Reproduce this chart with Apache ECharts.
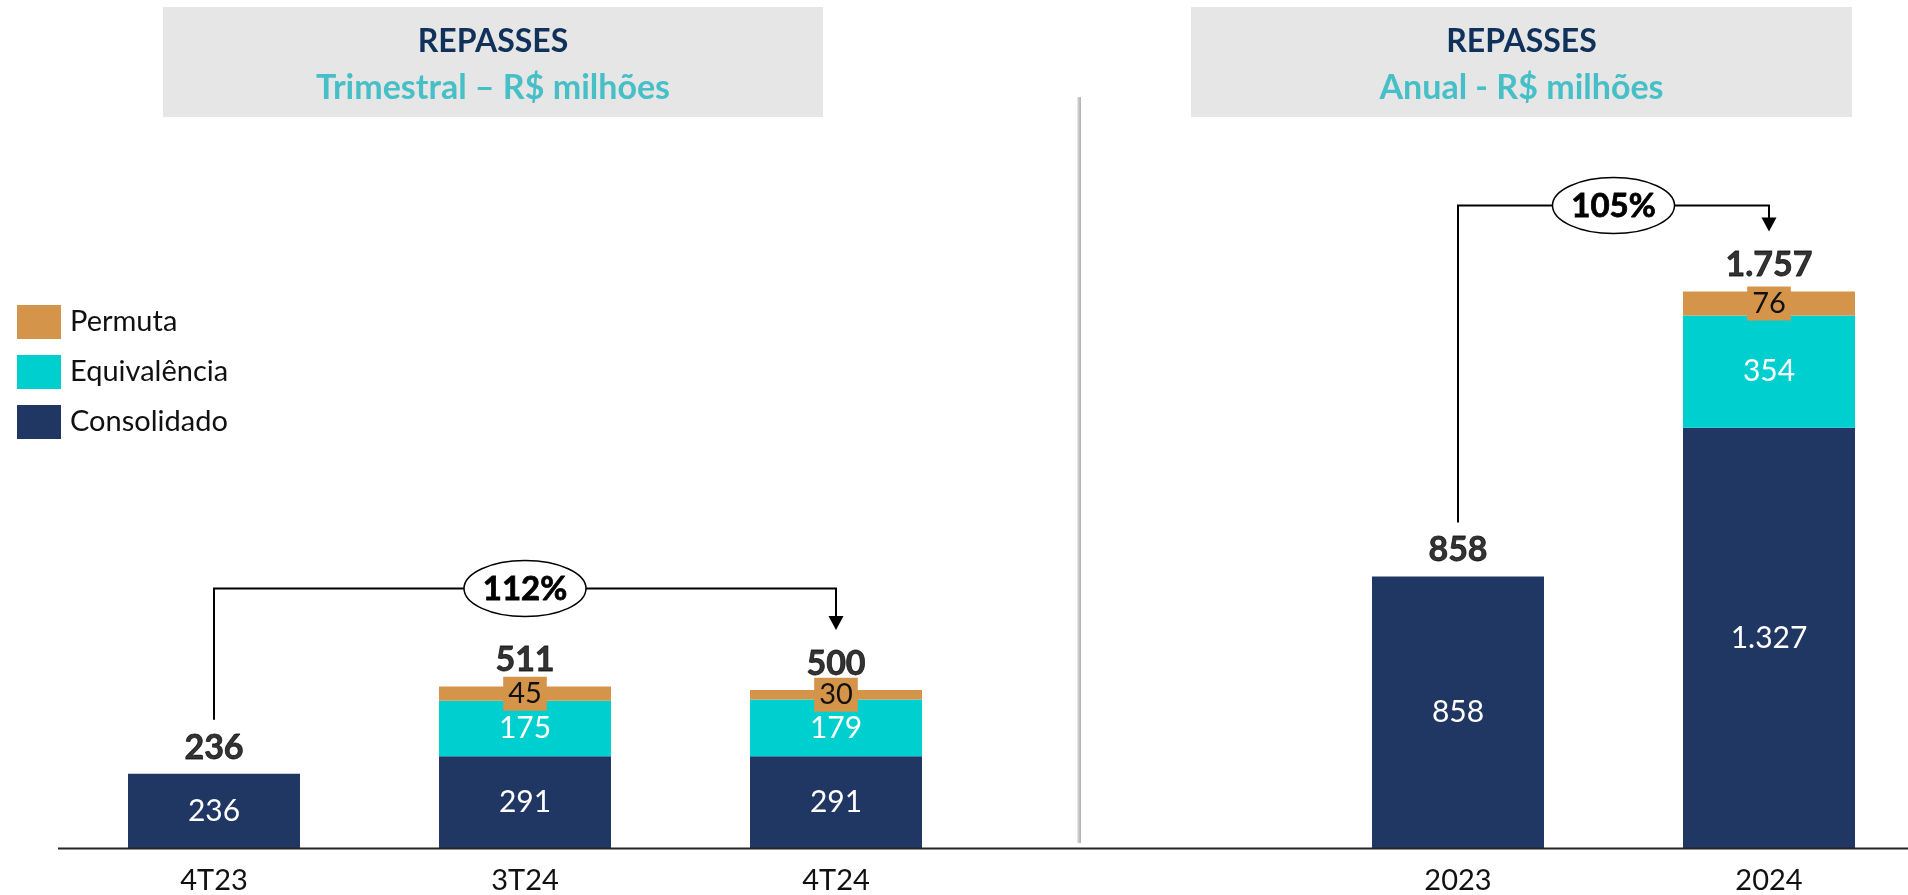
<!DOCTYPE html>
<html>
<head>
<meta charset="utf-8">
<script src="https://cdn.jsdelivr.net/npm/echarts@6/dist/echarts.min.js"></script>
<style>
html,body{margin:0;padding:0;background:#fff;}
#chart{width:1908px;height:895px;}
</style>
</head>
<body>
<div id="chart"></div>
<script>
// ---- data ----
const quarterCats = ['4T23', '3T24', '4T24'];
const quarterConsolidado = [236, 291, 291];
const quarterEquivalencia = [null, 175, 179];
const quarterPermuta = [null, 45, 30];

const yearCats = ['2023', '2024'];
const yearConsolidado = [858, 1327];
const yearEquivalencia = [null, 354];
const yearPermuta = [null, 76];

const seriesNames = ['Consolidado', 'Equivalência', 'Permuta'];
const legendOrder = ['Permuta', 'Equivalência', 'Consolidado'];
const panelTitles = ['REPASSES', 'REPASSES'];
const panelSubtitles = ['Trimestral – R$ milhões', 'Anual - R$ milhões'];
const growthLabels = ['112%', '105%'];

// ---- helpers ----
const FONT = 'Lato, "Open Sans", sans-serif';
const C_NAVY = '#213763';
const C_CYAN = '#00CFCF';
const C_ORANGE = '#D4954A';

function fmt(v) { return String(v).replace(/\B(?=(\d{3})+(?!\d))/g, '.'); }
function sum(arrs) {
  return arrs[0].map((_, i) => arrs.reduce((s, a) => s + (a[i] || 0), 0));
}
const quarterTotals = sum([quarterConsolidado, quarterEquivalencia, quarterPermuta]);
const yearTotals = sum([yearConsolidado, yearEquivalencia, yearPermuta]);

const chart = echarts.init(document.getElementById('chart'), null, { renderer: 'canvas' });

function stackSeries(axisIdx, cons, equi, perm, totals) {
  const base = { type: 'bar', stack: 'st' + axisIdx, xAxisIndex: axisIdx, yAxisIndex: axisIdx, barWidth: 172 };
  return [
    Object.assign({}, base, {
      name: 'Consolidado', data: cons, itemStyle: { color: C_NAVY },
      label: { show: true, position: 'inside', color: '#fff', fontSize: 30, fontFamily: FONT, formatter: p => fmt(p.value) }
    }),
    Object.assign({}, base, {
      name: 'Equivalência', data: equi, itemStyle: { color: C_CYAN },
      label: { show: true, position: 'inside', color: '#fff', fontSize: 30, fontFamily: FONT, formatter: p => fmt(p.value) }
    }),
    Object.assign({}, base, {
      name: 'Permuta', data: perm, itemStyle: { color: C_ORANGE },
      label: { show: true, position: 'inside', color: '#111', fontSize: 29, fontFamily: FONT,
        backgroundColor: C_ORANGE, padding: [3, 5, 2, 5], formatter: p => fmt(p.value) }
    }),
    {
      type: 'scatter', name: 'Total', xAxisIndex: axisIdx, yAxisIndex: axisIdx, data: totals,
      symbolSize: 0, silent: true, z: 10,
      label: { show: true, position: 'top', distance: 9, color: '#000', fontSize: 34, fontWeight: 'bold', fontFamily: FONT,
        textBorderColor: '#000', textBorderWidth: 0.8, formatter: p => fmt(p.value) }
    }
  ];
}

const xAxisCommon = {
  type: 'category',
  axisLine: { show: false }, axisTick: { show: false },
  axisLabel: { color: '#111', fontSize: 29, fontFamily: FONT, margin: 18 }
};
const yAxisCommon = { type: 'value', min: 0, max: 2000, show: false, splitLine: { show: false } };

const option = {
  animation: false,
  backgroundColor: '#fff',
  textStyle: { fontFamily: FONT },
  legend: {
    orient: 'vertical', left: 12, top: 300,
    itemWidth: 44, itemHeight: 34, itemGap: 16,
    icon: 'rect',
    data: legendOrder,
    textStyle: { fontSize: 29, color: '#111', fontFamily: FONT, padding: [0, 0, 0, 4] },
    selectedMode: false
  },
  grid: [
    { left: 58.5, width: 933, top: 214.5, bottom: 46.5, outerBoundsMode: 'none', containLabel: false },
    { left: 1302.5, width: 622, top: 214.5, bottom: 46.5, outerBoundsMode: 'none', containLabel: false }
  ],
  xAxis: [
    Object.assign({}, xAxisCommon, { gridIndex: 0, data: quarterCats }),
    Object.assign({}, xAxisCommon, { gridIndex: 1, data: yearCats })
  ],
  yAxis: [
    Object.assign({}, yAxisCommon, { gridIndex: 0 }),
    Object.assign({}, yAxisCommon, { gridIndex: 1 })
  ],
  series: [].concat(
    stackSeries(0, quarterConsolidado, quarterEquivalencia, quarterPermuta, quarterTotals),
    stackSeries(1, yearConsolidado, yearEquivalencia, yearPermuta, yearTotals)
  )
};
chart.setOption(option);

// ---- annotations (title boxes, divider, baseline, growth arrows) ----
const graphics = [];
const boxes = [{ x: 163, w: 660 }, { x: 1191, w: 661 }];
boxes.forEach((b, i) => {
  graphics.push({ type: 'rect', shape: { x: b.x, y: 7, width: b.w, height: 110 }, style: { fill: '#E6E6E6' }, silent: true });
  graphics.push({ type: 'text', style: { text: panelTitles[i], x: b.x + b.w / 2, y: 42, align: 'center', verticalAlign: 'middle',
    font: 'bold 32px ' + FONT, fill: '#10315A' }, silent: true });
  graphics.push({ type: 'text', style: { text: panelSubtitles[i], x: b.x + b.w / 2, y: 88, align: 'center', verticalAlign: 'middle',
    font: 'bold 34px ' + FONT, fill: '#47BFC7' }, silent: true });
});
// divider
graphics.push({ type: 'rect', shape: { x: 1077, y: 97, width: 4, height: 746 },
  style: { fill: new echarts.graphic.LinearGradient(0, 0, 1, 0, [
    { offset: 0, color: '#EDEDED' }, { offset: 0.5, color: '#C4C4C4' }, { offset: 1, color: '#B0B0B0' }]) }, silent: true });

// baseline
const zeroY = chart.convertToPixel({ gridIndex: 0 }, [0, 0])[1];
graphics.push({ type: 'line', shape: { x1: 58, y1: zeroY, x2: 1908, y2: zeroY }, style: { stroke: '#262626', lineWidth: 2 }, silent: true, z: 100 });

// growth brackets
const brackets = [
  { grid: 0, from: 0, to: 2, totals: quarterTotals, text: growthLabels[0], rise: 98 },
  { grid: 1, from: 0, to: 1, totals: yearTotals, text: growthLabels[1], rise: 86 }
];
brackets.forEach(b => {
  const p0 = chart.convertToPixel({ gridIndex: b.grid }, [b.from, b.totals[b.from]]);
  const p1 = chart.convertToPixel({ gridIndex: b.grid }, [b.to, b.totals[b.to]]);
  const maxT = Math.max.apply(null, b.totals);
  const pMax = chart.convertToPixel({ gridIndex: b.grid }, [0, maxT]);
  const lineY = pMax[1] - b.rise;
  const startY = p0[1] - 54;
  const tipY = p1[1] - 60;
  const stroke = { stroke: '#000', lineWidth: 2, fill: 'none' };
  graphics.push({ type: 'polyline', shape: { points: [[p0[0], startY], [p0[0], lineY], [p1[0], lineY], [p1[0], tipY - 13]] },
    style: stroke, silent: true });
  graphics.push({ type: 'polygon', shape: { points: [[p1[0] - 7.5, tipY - 14], [p1[0] + 7.5, tipY - 14], [p1[0], tipY]] },
    style: { fill: '#000' }, silent: true });
  const cx = (p0[0] + p1[0]) / 2;
  graphics.push({ type: 'ellipse', shape: { cx: cx, cy: lineY, rx: 61, ry: 28 },
    style: { fill: '#fff', stroke: '#000', lineWidth: 1.5 }, silent: true });
  graphics.push({ type: 'text', style: { text: b.text, x: cx, y: lineY + 1, align: 'center', verticalAlign: 'middle',
    font: 'bold 33px ' + FONT, fill: '#000', stroke: '#000', lineWidth: 0.8 }, silent: true });
});

chart.setOption({ graphic: graphics });
</script>
</body>
</html>
